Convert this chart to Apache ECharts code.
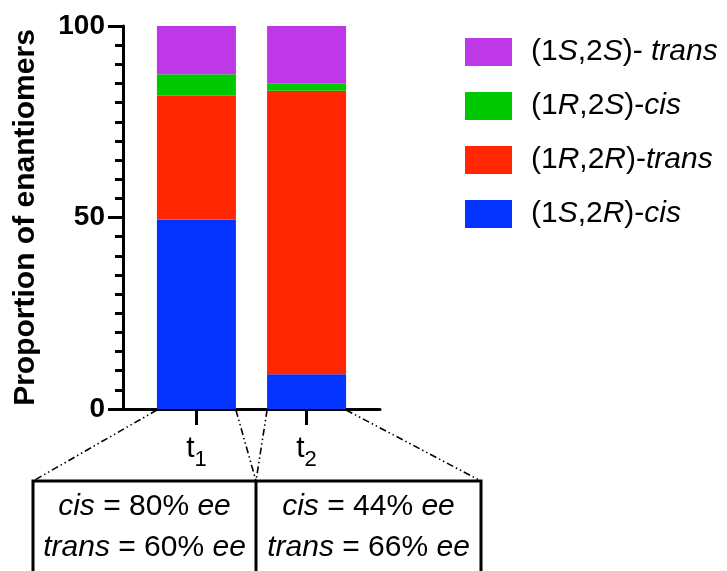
<!DOCTYPE html>
<html>
<head>
<meta charset="utf-8">
<script src="https://cdn.jsdelivr.net/npm/echarts@6/dist/echarts.min.js"></script>
<style>
html,body{margin:0;padding:0;background:#fff;}
#main{width:727px;height:571px;}
</style>
</head>
<body>
<div id="main"></div>
<script>
// ---- data ----
var categories = ['t1', 't2'];
var categorySub = ['1', '2'];
// category slots along the x axis (blank slots give the spacing of the original)
var slotCount = 8;
var slotIndex = [2, 5];
var seriesNames = ['(1S,2R)-cis', '(1R,2R)-trans', '(1R,2S)-cis', '(1S,2S)- trans'];
var legendRich = ['(1{i|S},2{i|R})-{i|cis}', '(1{i|R},2{i|R})-{i|trans}', '(1{i|R},2{i|S})-{i|cis}', '(1{i|S},2{i|S})- {i|trans}'];
var blueVals = [49.5, 9.1];
var redVals = [32.3, 74.0];
var greenVals = [5.6, 1.8];
var purpleVals = [12.6, 15.1];
var cisEE = ['80%', '44%'];
var transEE = ['60%', '66%'];

var colors = ['#0433FF', '#FF2600', '#00C800', '#BF38E8'];
var seriesVals = [blueVals, redVals, greenVals, purpleVals];
var FONT = '"Liberation Sans", Arial, Helvetica, sans-serif';
var BAR_W = 79;

// build the category axis
var slots = [];
for (var s = 0; s < slotCount; s++) {
  var ci = slotIndex.indexOf(s);
  slots.push(ci >= 0 ? categories[ci] : ('_' + s));
}

var chart = echarts.init(document.getElementById('main'), null, {renderer: 'canvas'});

var series = seriesVals.map(function (vals, k) {
  var d = slots.map(function () { return '-'; });
  vals.forEach(function (v, i) { d[slotIndex[i]] = v; });
  return {
    name: seriesNames[k],
    type: 'bar',
    stack: 'total',
    barWidth: BAR_W,
    itemStyle: {color: colors[k]},
    data: d
  };
});

function isReal(v) { return categories.indexOf(v) >= 0; }

chart.setOption({
  animation: false,
  grid: {left: 123, right: 347, top: 26, bottom: 162},
  xAxis: {
    type: 'category',
    data: slots,
    boundaryGap: false,
    splitLine: {show: false},
    axisLine: {show: true, lineStyle: {color: '#000', width: 3}},
    axisTick: {show: true, interval: function (idx, v) { return isReal(v); }, length: 16, lineStyle: {color: '#000', width: 3}},
    axisLabel: {
      interval: 0,
      margin: 18,
      formatter: function (v) {
        var i = categories.indexOf(v);
        return i >= 0 ? 't{s|' + categorySub[i] + '}' : '';
      },
      color: '#000',
      fontFamily: FONT,
      fontSize: 30,
      rich: {s: {fontSize: 22, fontFamily: FONT, color: '#000', padding: [22, 0, 0, 0]}}
    }
  },
  yAxis: {
    type: 'value',
    min: 0,
    max: 100,
    interval: 50,
    name: 'Proportion of enantiomers',
    nameLocation: 'middle',
    nameGap: 82,
    nameTextStyle: {fontFamily: FONT, fontWeight: 'bold', fontSize: 30, color: '#000'},
    splitLine: {show: false},
    axisLine: {show: true, lineStyle: {color: '#000', width: 3}},
    axisTick: {show: true, length: 15, lineStyle: {color: '#000', width: 3}},
    minorTick: {show: true, splitNumber: 10, length: 8, lineStyle: {color: '#000', width: 3}},
    axisLabel: {margin: 18, color: '#000', fontFamily: FONT, fontWeight: 'bold', fontSize: 28}
  },
  legend: {
    orient: 'vertical',
    left: 465,
    top: 37,
    padding: 0,
    itemWidth: 47,
    itemHeight: 28,
    itemGap: 24,
    icon: 'rect',
    data: seriesNames.slice().reverse(),
    formatter: function (name) {
      return legendRich[seriesNames.indexOf(name)];
    },
    textStyle: {
      fontFamily: FONT, fontSize: 30, color: '#000', lineHeight: 28,
      padding: [0, 0, 0, 14],
      rich: {i: {fontStyle: 'italic', fontFamily: FONT, fontSize: 30, color: '#000'}}
    }
  },
  series: series
});

// ---- annotation (box below the axis) ----
var boxLeft = 33, boxRight = 481, boxTop = 481, boxDiv = 256, boxBottom = 580;
var g = [];
var dashStyle = {stroke: '#000', lineWidth: 1.6, lineDash: [7, 3, 1.5, 3, 1.5, 3]};
var corners = [];
slotIndex.forEach(function (si) {
  var p = chart.convertToPixel({xAxisIndex: 0, yAxisIndex: 0}, [si, 0]);
  corners.push([p[0] - BAR_W / 2, p[1] + 1]);
  corners.push([p[0] + BAR_W / 2, p[1] + 1]);
});
var targets = [[boxLeft, boxTop], [boxDiv, boxTop], [boxDiv, boxTop], [boxRight, boxTop]];
corners.forEach(function (c, k) {
  g.push({type: 'line', shape: {x1: c[0], y1: c[1], x2: targets[k][0], y2: targets[k][1]}, style: dashStyle, silent: true});
});
g.push({type: 'polyline', shape: {points: [[boxLeft, boxBottom], [boxLeft, boxTop], [boxRight, boxTop], [boxRight, boxBottom]]},
  style: {stroke: '#000', lineWidth: 3, fill: null}, silent: true});
g.push({type: 'line', shape: {x1: boxDiv, y1: boxTop, x2: boxDiv, y2: boxBottom}, style: {stroke: '#000', lineWidth: 3}, silent: true});
var cellCenters = [(boxLeft + boxDiv) / 2, (boxDiv + boxRight) / 2];
var richI = {i: {fontStyle: 'italic', fontFamily: FONT, fontSize: 30, fill: '#000'}};
cellCenters.forEach(function (cx, i) {
  g.push({type: 'text', x: cx, y: 507, style: {text: '{i|cis} = ' + cisEE[i] + ' {i|ee}', font: '30px ' + FONT, fill: '#000', align: 'center', verticalAlign: 'middle', rich: richI}, silent: true});
  g.push({type: 'text', x: cx, y: 548, style: {text: '{i|trans} = ' + transEE[i] + ' {i|ee}', font: '30px ' + FONT, fill: '#000', align: 'center', verticalAlign: 'middle', rich: richI}, silent: true});
});
chart.setOption({graphic: g});
</script>
</body>
</html>
